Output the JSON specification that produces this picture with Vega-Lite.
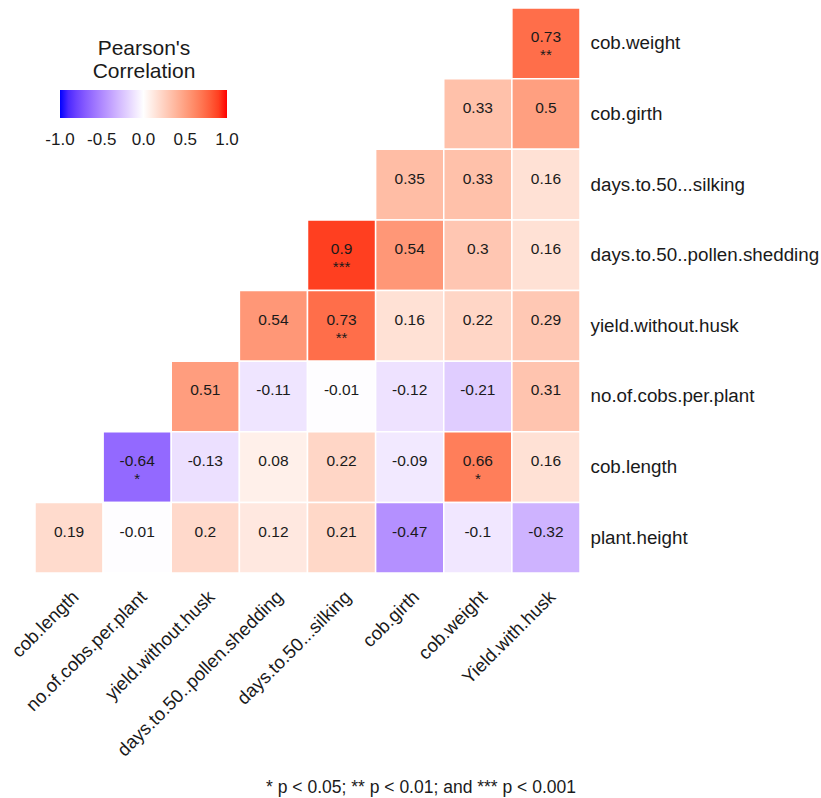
{
  "$schema": "https://vega.github.io/schema/vega-lite/v6.json",
  "width": 545,
  "height": 565,
  "autosize": {"type": "none"},
  "padding": {"left": 35, "top": 8, "right": 241, "bottom": 225},
  "background": "white",
  "config": {
    "view": {"stroke": null},
    "font": "Liberation Sans",
    "text": {"font": "Liberation Sans"}
  },
  "title": {
    "text": "* p < 0.05; ** p < 0.01; and *** p < 0.001",
    "orient": "bottom",
    "anchor": "end",
    "frame": "group",
    "fontSize": 17.5,
    "fontWeight": "normal",
    "font": "Liberation Sans",
    "color": "#1a1a1a",
    "offset": 20,
    "dx": -4
  },
  "data": {
    "values": [
      {"x": "Yield.with.husk", "y": "cob.weight", "r": 0.73, "lab": "0.73", "sig": "**"},
      {"x": "cob.weight", "y": "cob.girth", "r": 0.33, "lab": "0.33", "sig": ""},
      {"x": "Yield.with.husk", "y": "cob.girth", "r": 0.5, "lab": "0.5", "sig": ""},
      {"x": "cob.girth", "y": "days.to.50...silking", "r": 0.35, "lab": "0.35", "sig": ""},
      {"x": "cob.weight", "y": "days.to.50...silking", "r": 0.33, "lab": "0.33", "sig": ""},
      {"x": "Yield.with.husk", "y": "days.to.50...silking", "r": 0.16, "lab": "0.16", "sig": ""},
      {"x": "days.to.50...silking", "y": "days.to.50..pollen.shedding", "r": 0.9, "lab": "0.9", "sig": "***"},
      {"x": "cob.girth", "y": "days.to.50..pollen.shedding", "r": 0.54, "lab": "0.54", "sig": ""},
      {"x": "cob.weight", "y": "days.to.50..pollen.shedding", "r": 0.3, "lab": "0.3", "sig": ""},
      {"x": "Yield.with.husk", "y": "days.to.50..pollen.shedding", "r": 0.16, "lab": "0.16", "sig": ""},
      {"x": "days.to.50..pollen.shedding", "y": "yield.without.husk", "r": 0.54, "lab": "0.54", "sig": ""},
      {"x": "days.to.50...silking", "y": "yield.without.husk", "r": 0.73, "lab": "0.73", "sig": "**"},
      {"x": "cob.girth", "y": "yield.without.husk", "r": 0.16, "lab": "0.16", "sig": ""},
      {"x": "cob.weight", "y": "yield.without.husk", "r": 0.22, "lab": "0.22", "sig": ""},
      {"x": "Yield.with.husk", "y": "yield.without.husk", "r": 0.29, "lab": "0.29", "sig": ""},
      {"x": "yield.without.husk", "y": "no.of.cobs.per.plant", "r": 0.51, "lab": "0.51", "sig": ""},
      {"x": "days.to.50..pollen.shedding", "y": "no.of.cobs.per.plant", "r": -0.11, "lab": "-0.11", "sig": ""},
      {"x": "days.to.50...silking", "y": "no.of.cobs.per.plant", "r": -0.01, "lab": "-0.01", "sig": ""},
      {"x": "cob.girth", "y": "no.of.cobs.per.plant", "r": -0.12, "lab": "-0.12", "sig": ""},
      {"x": "cob.weight", "y": "no.of.cobs.per.plant", "r": -0.21, "lab": "-0.21", "sig": ""},
      {"x": "Yield.with.husk", "y": "no.of.cobs.per.plant", "r": 0.31, "lab": "0.31", "sig": ""},
      {"x": "no.of.cobs.per.plant", "y": "cob.length", "r": -0.64, "lab": "-0.64", "sig": "*"},
      {"x": "yield.without.husk", "y": "cob.length", "r": -0.13, "lab": "-0.13", "sig": ""},
      {"x": "days.to.50..pollen.shedding", "y": "cob.length", "r": 0.08, "lab": "0.08", "sig": ""},
      {"x": "days.to.50...silking", "y": "cob.length", "r": 0.22, "lab": "0.22", "sig": ""},
      {"x": "cob.girth", "y": "cob.length", "r": -0.09, "lab": "-0.09", "sig": ""},
      {"x": "cob.weight", "y": "cob.length", "r": 0.66, "lab": "0.66", "sig": "*"},
      {"x": "Yield.with.husk", "y": "cob.length", "r": 0.16, "lab": "0.16", "sig": ""},
      {"x": "cob.length", "y": "plant.height", "r": 0.19, "lab": "0.19", "sig": ""},
      {"x": "no.of.cobs.per.plant", "y": "plant.height", "r": -0.01, "lab": "-0.01", "sig": ""},
      {"x": "yield.without.husk", "y": "plant.height", "r": 0.2, "lab": "0.2", "sig": ""},
      {"x": "days.to.50..pollen.shedding", "y": "plant.height", "r": 0.12, "lab": "0.12", "sig": ""},
      {"x": "days.to.50...silking", "y": "plant.height", "r": 0.21, "lab": "0.21", "sig": ""},
      {"x": "cob.girth", "y": "plant.height", "r": -0.47, "lab": "-0.47", "sig": ""},
      {"x": "cob.weight", "y": "plant.height", "r": -0.1, "lab": "-0.1", "sig": ""},
      {"x": "Yield.with.husk", "y": "plant.height", "r": -0.32, "lab": "-0.32", "sig": ""}
    ]
  },
  "encoding": {
    "x": {
      "field": "x",
      "type": "nominal",
      "sort": ["cob.length", "no.of.cobs.per.plant", "yield.without.husk", "days.to.50..pollen.shedding", "days.to.50...silking", "cob.girth", "cob.weight", "Yield.with.husk"],
      "scale": {"domain": ["cob.length", "no.of.cobs.per.plant", "yield.without.husk", "days.to.50..pollen.shedding", "days.to.50...silking", "cob.girth", "cob.weight", "Yield.with.husk"], "paddingInner": 0, "paddingOuter": 0},
      "axis": {
        "title": null,
        "orient": "bottom",
        "domain": false,
        "ticks": false,
        "labelAngle": -45,
        "labelAlign": "right",
        "labelBaseline": "top",
        "labelPadding": 14,
        "labelFontSize": 18.5,
        "labelFont": "Liberation Sans",
        "labelColor": "#1a1a1a",
        "labelLimit": 400
      }
    },
    "y": {
      "field": "y",
      "type": "nominal",
      "scale": {"domain": ["cob.weight", "cob.girth", "days.to.50...silking", "days.to.50..pollen.shedding", "yield.without.husk", "no.of.cobs.per.plant", "cob.length", "plant.height"], "paddingInner": 0, "paddingOuter": 0},
      "axis": {
        "title": null,
        "orient": "right",
        "domain": false,
        "ticks": false,
        "labelPadding": 10,
        "labelFontSize": 18.8,
        "labelFont": "Liberation Sans",
        "labelColor": "#1a1a1a",
        "labelLimit": 400
      }
    }
  },
  "layer": [
    {
      "mark": {"type": "rect", "stroke": "white", "strokeWidth": 1.5},
      "encoding": {
        "color": {
          "field": "r",
          "type": "quantitative",
          "scale": {"type": "linear", "domain": [-1, 0, 1], "range": ["blue", "white", "red"], "interpolate": "lab"},
          "legend": {
            "title": ["Pearson's", "Correlation"],
            "orient": "none",
            "direction": "horizontal",
            "legendX": 25,
            "legendY": 30,
            "padding": 0,
            "titleFontSize": 21,
            "titleFontWeight": "normal",
            "titleFont": "Liberation Sans",
            "titleColor": "#1a1a1a",
            "titleAnchor": "middle",
            "titleAlign": "center",
            "titleLineHeight": 23,
            "titlePadding": 8,
            "gradientLength": 167,
            "gradientThickness": 28,
            "gradientStrokeWidth": 0,
            "labelFontSize": 17,
            "labelFont": "Liberation Sans",
            "labelColor": "#1a1a1a",
            "labelOffset": 14,
            "labelAlign": "center",
            "labelOverlap": false,
            "values": [-1, -0.5, 0, 0.5, 1],
            "labelExpr": "datum.value < 0 ? '-' + format(-datum.value, '.1f') : format(datum.value, '.1f')",
            "encode": {"labels": {"update": {"align": {"value": "center"}}}}
          }
        }
      }
    },
    {
      "mark": {"type": "text", "fontSize": 15.5, "dy": -6, "color": "#1a1a1a", "font": "Liberation Sans"},
      "encoding": {"text": {"field": "lab", "type": "nominal"}}
    },
    {
      "mark": {"type": "text", "fontSize": 15, "dy": 12, "color": "#1a1a1a", "font": "Liberation Sans"},
      "encoding": {"text": {"field": "sig", "type": "nominal"}}
    }
  ]
}
